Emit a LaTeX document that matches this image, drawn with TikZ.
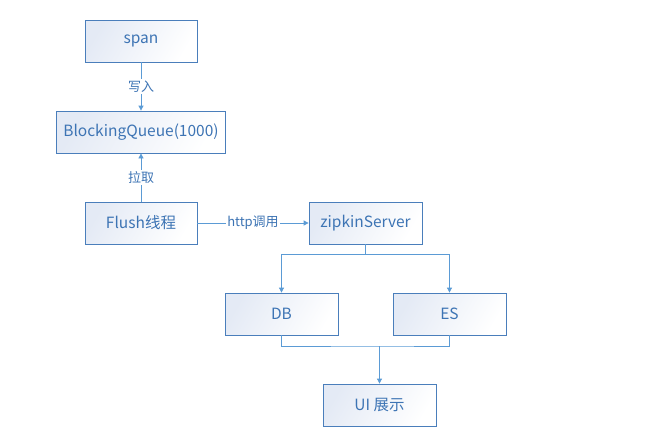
\documentclass[tikz,border=0pt]{standalone}
\usepackage{fontspec}
\setmainfont{Noto Sans CJK SC}
\usepackage{tikz}
\usetikzlibrary{arrows.meta, positioning, calc}

\definecolor{boxline}{HTML}{4A7EBB}
\definecolor{wireblue}{HTML}{5B9BD5}
\definecolor{textblue}{HTML}{3D74B4}
\definecolor{boxshade}{HTML}{E4EAF5}

\tikzset{
  box/.style={draw=boxline, line width=0.8pt, left color=boxshade, right color=white,
    shading angle=60, minimum width=112pt, minimum height=42pt, inner sep=0pt,
    text=textblue, font=\fontsize{15.5pt}{17pt}\selectfont},
  wire/.style={draw=wireblue, line width=0.8pt},
  tag/.style={fill=white, text=textblue, inner sep=1.5pt, font=\fontsize{13pt}{15pt}\selectfont},
  >={Triangle[width=5pt,length=5pt]}
}

\begin{document}
\begin{tikzpicture}[x=1pt, y=1pt, node distance=91pt, on grid]
                \useasboundingbox (0,0) rectangle (657,-440);
                \node[box] (span) at (141,-41) {span};
                \node[box, minimum width=169pt] (queue) [below=of span] {BlockingQueue(1000)};
                \node[box] (flush) [below=of queue] {Flush线程};
                \node[box, minimum width=113pt] (zipkin) [right=224.5pt of flush] {zipkinServer};
                \node[box, minimum width=113pt] (db) at (281.5,-314) {DB};
                \node[box, minimum width=113pt] (es) [right=168pt of db] {ES};
                \node[box, minimum width=113pt] (ui) at (379.5,-405) {UI 展示};
                \coordinate (split) at ($(zipkin.south)+(0,-10)$);
                \coordinate (merge) at (ui.north |- 0,-346);
                \path[wire, ->] (span) -- node[tag] {写入} (queue);
                \path[wire, ->] (flush) -- node[tag] {拉取} (queue);
                \path[wire, ->] (flush) -- node[tag] {http调用} (zipkin);
                \path[wire] (zipkin) -- (split);
                \path[wire, ->] (split) -| (db);
                \path[wire, ->] (split) -| (es);
                \path[wire] (db.south) |- (merge) -| (es.south);
                \path[wire, ->] (merge) -- (ui);
        \end{tikzpicture}
\end{document}
